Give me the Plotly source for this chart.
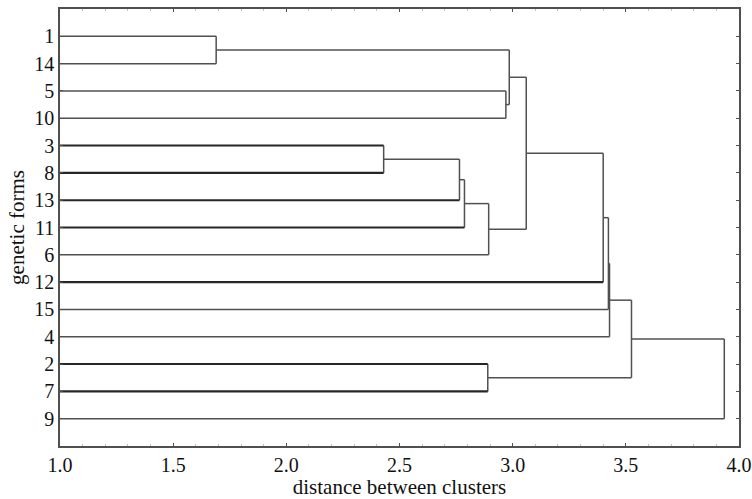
import plotly.graph_objects as go

# Leaf order from top to bottom (genetic form labels)
leaf_order = [1, 14, 5, 10, 3, 8, 13, 11, 6, 12, 15, 4, 2, 7, 9]

# Merges: (child_a, child_b, distance); children are leaf labels (int) or merge ids ("m#")
merge_ids = ["m1", "m2", "m3", "m4", "m5", "m6", "m7", "m8", "m9", "m10", "m11", "m12", "m13", "m14"]
merge_a = [1, 5, "m1", 3, "m4", "m5", "m6", "m3", "m8", "m9", "m10", 2, "m11", "m13"]
merge_b = [14, 10, "m2", 8, 13, 11, 6, "m7", 12, 15, 4, 7, "m12", 9]
merge_dist = [1.69, 2.97, 2.985, 2.43, 2.765, 2.787, 2.894, 3.06, 3.40, 3.423, 3.428, 2.89, 3.525, 3.935]

# Leaves drawn with a heavier stroke in the original
bold_leaves = [3, 8, 13, 11, 12, 2, 7]

x_min, x_max = 1.0, 4.0
x_ticks = [1.0, 1.5, 2.0, 2.5, 3.0, 3.5, 4.0]

# position / height for each node
pos = {lab: i + 1 for i, lab in enumerate(leaf_order)}
height = {lab: x_min for lab in leaf_order}

thin_x, thin_y, bold_x, bold_y = [], [], [], []

def add(seg_x, seg_y, bold=False):
    if bold:
        bold_x.extend(seg_x + [None]); bold_y.extend(seg_y + [None])
    else:
        thin_x.extend(seg_x + [None]); thin_y.extend(seg_y + [None])

for mid, a, b, d in zip(merge_ids, merge_a, merge_b, merge_dist):
    for c in (a, b):
        add([height[c], d], [pos[c], pos[c]], bold=(c in bold_leaves))
    add([d, d], [pos[a], pos[b]])
    pos[mid] = (pos[a] + pos[b]) / 2
    height[mid] = d

fig = go.Figure()
fig.add_trace(go.Scatter(x=thin_x, y=thin_y, mode="lines",
                         line=dict(color="#505050", width=1.5),
                         hoverinfo="skip", showlegend=False))
fig.add_trace(go.Scatter(x=bold_x, y=bold_y, mode="lines",
                         line=dict(color="#262626", width=2.1),
                         hoverinfo="skip", showlegend=False))

tick_font = dict(family="Liberation Serif", size=20, color="#111111")
title_font = dict(family="Liberation Serif", size=21, color="#111111")

fig.update_layout(
    width=752, height=499,
    margin=dict(l=60, r=13, t=7, b=48),
    paper_bgcolor="white", plot_bgcolor="white",
    font=tick_font,
    xaxis=dict(
        range=[x_min, x_max], tickvals=x_ticks,
        ticktext=[f"{v:.1f}" for v in x_ticks],
        ticklabeloverflow="allow", automargin="height",
        showgrid=False, zeroline=False,
        showline=True, linecolor="#505050", linewidth=1.5, mirror="allticks",
        ticks="inside", ticklen=3, tickcolor="#505050",
        minor=dict(dtick=0.1, ticks="inside", ticklen=2, tickcolor="#c0c0c0"),
        title=dict(text="distance between clusters", standoff=2, font=title_font),
        tickfont=tick_font,
    ),
    yaxis=dict(
        range=[16, 0], tickvals=list(range(1, len(leaf_order) + 1)),
        ticktext=[str(v) for v in leaf_order],
        showgrid=False, zeroline=False, automargin="width",
        showline=True, linecolor="#505050", linewidth=1.5, mirror="allticks",
        ticks="inside", ticklen=3, tickcolor="#505050",
        title=dict(text="genetic forms", standoff=4, font=title_font),
        tickfont=tick_font,
    ),
)

fig.write_html("out.html", config={"displayModeBar": False},
               post_script="document.body.style.margin='0';")
